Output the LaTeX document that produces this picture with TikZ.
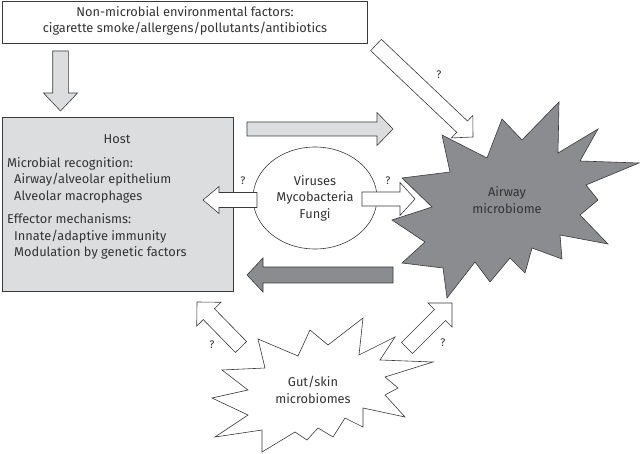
\documentclass[tikz,border=0pt]{standalone}
\usepackage{fontspec}
\setmainfont{Fira Sans}
\usetikzlibrary{calc,shapes.geometric}
\definecolor{lightfill}{HTML}{DCDDDF}
\definecolor{darkfill}{HTML}{8B8C8F}
\definecolor{linec}{HTML}{3A3A3A}
\definecolor{textc}{HTML}{333333}
\newcommand{\fatarrow}[6]{%
  \coordinate (fah) at ($(#3)!#6!(#2)$);
  \draw[#1] ($(#2)!#4!90:(#3)$) -- ($(fah)!#4!90:(#3)$) -- ($(fah)!#5!90:(#3)$) -- (#3)
    -- ($(fah)!#5!-90:(#3)$) -- ($(fah)!#4!-90:(#3)$) -- ($(#2)!#4!-90:(#3)$) -- cycle;}
\tikzset{
  outl/.style={draw=linec, line width=0.6pt, line join=miter},
  txt/.style={text=textc, font=\fontsize{12.8}{16.5}\selectfont, inner sep=0pt, align=center},
  qm/.style={text=textc, font=\fontsize{11}{12}\selectfont, inner sep=0pt},
  whitearr/.style={outl, fill=white},
  lightarr/.style={outl, fill=lightfill},
  darkarr/.style={outl, fill=darkfill},
}
\begin{document}
\begin{tikzpicture}[x=1pt,y=-1pt]
\useasboundingbox (0,0) rectangle (640,454);
% top box
\node[outl, fill=white, minimum width=365pt, minimum height=42pt, inner sep=0pt] (env) at (184.5,22) {};
\node[txt] (envtext) at (185,21) {Non-microbial environmental factors:\\cigarette smoke/allergens/pollutants/antibiotics};
% host box
\node[outl, fill=lightfill, minimum width=231pt, minimum height=174pt, inner sep=0pt] (host) at (117.5,204) {};
\node[txt] (hosttitle) at (117,139) {Host};
\node[txt, align=left, anchor=north west] (hosttext) at (7,157) {Microbial recognition:\\
\hspace*{7pt}Airway/alveolar epithelium\\
\hspace*{7pt}Alveolar macrophages\\[7pt]
Effector mechanisms:\\
\hspace*{7pt}Innate/adaptive immunity\\
\hspace*{7pt}Modulation by genetic factors};
% airway microbiome starburst
\draw[outl, fill=darkfill] (559,102) -- (558,153) -- (598,129) -- (580,161) -- (639,163) -- (586,185)
 -- (598,200) -- (580,215) -- (608,244) -- (560,235) -- (562,259) -- (532,248) -- (525,273)
 -- (510,258) -- (490,282) -- (475,262) -- (447,298) -- (443,268) -- (402,263) -- (425,242)
 -- (392,220) -- (432,207) -- (402,178) -- (450,172) -- (442,135) -- (487,158) -- (502,119)
 -- (522,140) -- cycle;
\node[txt] (airway) at (507,200) {Airway\\microbiome};
% gut/skin starburst
\draw[outl, fill=white] (363,318) -- (359,355) -- (395,337) -- (380,360) -- (433,362) -- (385,377)
 -- (398,388) -- (385,395) -- (405,417) -- (363,408) -- (363,427) -- (345,418) -- (333,437)
 -- (318,428) -- (307,440) -- (295,432) -- (262,452) -- (262,430) -- (215,437) -- (248,415)
 -- (212,398) -- (248,390) -- (222,370) -- (265,368) -- (258,339) -- (298,356) -- (310,330)
 -- (328,345) -- cycle;
\node[txt] (gut) at (313,390) {Gut/skin\\microbiomes};
% ellipse
\node[outl, fill=white, ellipse, minimum width=124pt, minimum height=102pt, inner sep=0pt] (virus) at (315,198) {};
\node[txt] (virustext) at (315,198) {Viruses\\Mycobacteria\\Fungi};
% arrow end points
\coordinate (a1s) at (60.5,51);  \coordinate (a1e) at (60.5,111);
\coordinate (a2s) at (247,129);  \coordinate (a2e) at (393,129);
\coordinate (a3s) at (393,275);  \coordinate (a3e) at (247,275);
\coordinate (a4s) at (257,200);  \coordinate (a4e) at (203,200);
\coordinate (a5s) at (362,199);  \coordinate (a5e) at (415,199);
\coordinate (a6s) at (376,45);   \coordinate (a6e) at (473,137);
\coordinate (a7s) at (241,347);  \coordinate (a7e) at (197,302);
\coordinate (a8s) at (407,348);  \coordinate (a8e) at (452,303);
\fatarrow{lightarr}{a1s}{a1e}{7.8pt}{17pt}{18pt}
\fatarrow{lightarr}{a2s}{a2e}{7pt}{16.5pt}{16pt}
\fatarrow{darkarr}{a3s}{a3e}{8pt}{17pt}{16pt}
\fatarrow{whitearr}{a4s}{a4e}{7.5pt}{13.5pt}{16pt}
\fatarrow{whitearr}{a5s}{a5e}{7pt}{16.5pt}{15pt}
\fatarrow{whitearr}{a6s}{a6e}{7.8pt}{15.5pt}{15pt}
\fatarrow{whitearr}{a7s}{a7e}{7.8pt}{17pt}{17pt}
\fatarrow{whitearr}{a8s}{a8e}{7.8pt}{17pt}{17pt}
% question marks
\node[qm] (q1) at (243,181) {?};
\node[qm] (q2) at (388,181) {?};
\node[qm] (q3) at (439,75) {?};
\node[qm] (q4) at (212,345) {?};
\node[qm] (q5) at (443,343) {?};
\end{tikzpicture}
\end{document}
